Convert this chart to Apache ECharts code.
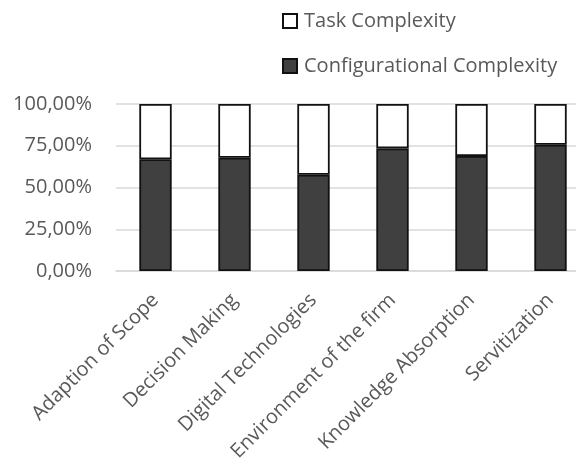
<!DOCTYPE html>
<html>
<head>
<meta charset="utf-8">
<script src="https://cdn.jsdelivr.net/npm/echarts@6/dist/echarts.min.js"></script>
<style>
  html, body { margin: 0; padding: 0; background: #fff; overflow: hidden; }
  #chart { width: 576px; height: 459px; }
</style>
</head>
<body>
<div id="chart"></div>
<script>
// Share of each complexity type per theme (percent)
const categories = [
  'Adaption of Scope',
  'Decision Making',
  'Digital Technologies',
  'Environment of the firm',
  'Knowledge Absorption',
  'Servitization'
];
const configurationalComplexity = [66.9, 67.8, 57.6, 73.4, 68.9, 75.6];
const taskComplexity = [33.1, 32.2, 42.4, 26.6, 31.1, 24.4];
const yTicks = [0, 25, 50, 75, 100];

const font = '"Open Sans", "Noto Sans", sans-serif';
const textGray = '#595959';

const chart = echarts.init(document.getElementById('chart'), null, { renderer: 'canvas' });
chart.setOption({
  animation: false,
  backgroundColor: '#ffffff',
  textStyle: { fontFamily: font },
  legend: {
    orient: 'vertical',
    left: 277,
    top: 6,
    itemWidth: 14,
    itemHeight: 14,
    itemGap: 25,
    icon: 'rect',
    data: ['Task Complexity', 'Configurational Complexity'],
    textStyle: { fontFamily: font, fontSize: 20, color: textGray, padding: [0, 0, 0, 2] }
  },
  grid: {
    left: 116, right: -14, top: 104, bottom: 188,
    containLabel: false,
    outerBoundsMode: 'none'
  },
  xAxis: {
    type: 'category',
    data: categories,
    axisLine: { show: true, lineStyle: { color: '#d9d9d9', width: 1.5 } },
    axisTick: { show: false },
    axisLabel: {
      rotate: 45,
      interval: 0,
      margin: 26,
      fontFamily: font,
      fontSize: 20,
      color: textGray
    }
  },
  yAxis: {
    type: 'value',
    min: yTicks[0],
    max: yTicks[yTicks.length - 1],
    interval: 25,
    axisLine: { show: false },
    axisTick: { show: false },
    splitLine: { lineStyle: { color: '#d9d9d9', width: 1.5 } },
    axisLabel: {
      margin: 24,
      fontFamily: font,
      fontSize: 20,
      color: textGray,
      formatter: v => v.toFixed(2).replace('.', ',') + '%'
    }
  },
  series: [
    {
      name: 'Configurational Complexity',
      type: 'bar',
      stack: 'share',
      barWidth: '41%',
      data: configurationalComplexity,
      itemStyle: { color: '#404040', borderColor: '#111111', borderWidth: 1.8 }
    },
    {
      name: 'Task Complexity',
      type: 'bar',
      stack: 'share',
      barWidth: '41%',
      data: taskComplexity,
      itemStyle: { color: '#ffffff', borderColor: '#111111', borderWidth: 1.8 }
    }
  ]
});
</script>
</body>
</html>
